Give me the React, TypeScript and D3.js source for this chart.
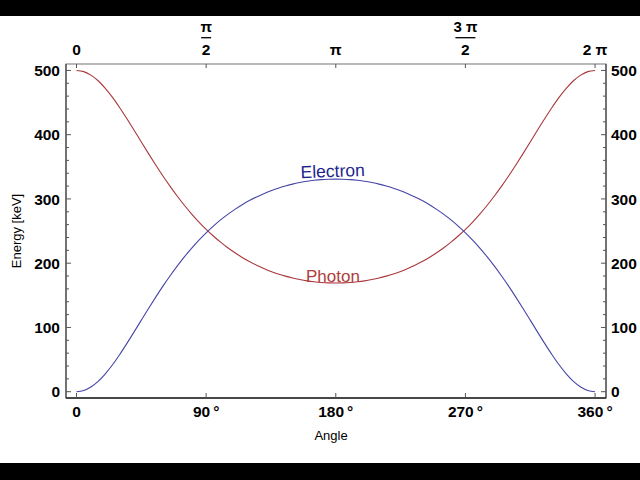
import * as d3 from 'd3'

// angle in degrees, 5° steps
const angles = d3.range(0, 361, 5)
const photonHalf = [
  500, 498.1, 492.7, 483.9, 472.1, 458.0, 442.0, 424.8, 406.9, 388.6,
  370.5, 352.8, 335.7, 319.5, 304.2, 289.8, 276.5, 264.1, 252.7, 242.3,
  232.7, 224.0, 216.2, 209.0, 202.6, 196.9, 191.8, 187.2, 183.3, 179.9,
  176.9, 174.5, 172.5, 171.0, 169.9, 169.3, 169.1,
]
const electronHalf = [
  0, 1.9, 7.3, 16.1, 27.9, 42.0, 58.0, 75.2, 93.1, 111.4,
  129.5, 147.2, 164.3, 180.5, 195.8, 210.2, 223.5, 235.9, 247.3, 257.7,
  267.3, 276.0, 283.8, 291.0, 297.4, 303.1, 308.2, 312.8, 316.7, 320.1,
  323.1, 325.5, 327.5, 329.0, 330.1, 330.7, 330.9,
]
// 180°..360° mirrors 0°..180°
const photon = [...photonHalf, ...photonHalf.slice(0, -1).reverse()]
const electron = [...electronHalf, ...electronHalf.slice(0, -1).reverse()]

const xTicks = [0, 90, 180, 270, 360]
const bottomLabels = ['0', '90', '180', '270', '360']
const topLabels = ['0', 'π/2', 'π', '3π/2', '2π']
const yTicks = [0, 100, 200, 300, 400, 500]
const yMinorTicks = d3.range(0, 501, 20).filter(v => v % 100 !== 0)

const W = 640
const H = 480
const FRAME = { left: 66, right: 606, top: 64, bottom: 398 }
const FONT = '"Liberation Sans", Arial, sans-serif'
const PHOTON_COLOR = '#a8383c'
const ELECTRON_COLOR = '#4545a8'

export default function App() {
  const x = d3.scaleLinear().domain([-7.3, 367.6]).range([FRAME.left, FRAME.right])
  const y = d3.scaleLinear().domain([-9.8, 510]).range([FRAME.bottom, FRAME.top])

  const line = d3.line<number>()
    .x((_, i) => x(angles[i]))
    .y(d => y(d))
    .curve(d3.curveCatmullRom)

  const tickColor = '#555'
  const frameColor = '#8a8a8a'

  return (
    <svg width={W} height={H} style={{ position: 'absolute', left: 0, top: 0, background: '#fff' }}
      fontFamily={FONT}>
      {/* letterbox bars */}
      <rect x={0} y={0} width={W} height={16} fill="#000" />
      <rect x={0} y={463} width={W} height={17} fill="#000" />

      {/* frame */}
      <rect x={FRAME.left} y={FRAME.top} width={FRAME.right - FRAME.left} height={FRAME.bottom - FRAME.top}
        fill="none" stroke={frameColor} strokeWidth={1.2} />
      <line x1={FRAME.left} x2={FRAME.right} y1={FRAME.bottom} y2={FRAME.bottom} stroke="#222" strokeWidth={1.4} />
      <line x1={FRAME.left} x2={FRAME.left} y1={FRAME.top} y2={FRAME.bottom} stroke="#444" strokeWidth={1.2} />
      <line x1={FRAME.right} x2={FRAME.right} y1={FRAME.top} y2={FRAME.bottom} stroke="#444" strokeWidth={1.2} />

      {/* y ticks, both sides */}
      {yTicks.map(v => (
        <g key={'y' + v}>
          <line x1={FRAME.left} x2={FRAME.left + 5} y1={y(v)} y2={y(v)} stroke={tickColor} />
          <line x1={FRAME.right - 5} x2={FRAME.right} y1={y(v)} y2={y(v)} stroke={tickColor} />
          <text x={60} y={y(v)} dy="0.36em" textAnchor="end" fontSize={15.5} fontWeight="bold">{v}</text>
          <text x={611} y={y(v)} dy="0.36em" textAnchor="start" fontSize={15.5} fontWeight="bold">{v}</text>
        </g>
      ))}
      {yMinorTicks.map(v => (
        <g key={'ym' + v}>
          <line x1={FRAME.left} x2={FRAME.left + 3} y1={y(v)} y2={y(v)} stroke={tickColor} />
          <line x1={FRAME.right - 3} x2={FRAME.right} y1={y(v)} y2={y(v)} stroke={tickColor} />
        </g>
      ))}

      {/* x ticks, bottom and top */}
      {xTicks.map((v, i) => (
        <g key={'x' + v}>
          <line x1={x(v)} x2={x(v)} y1={FRAME.bottom} y2={FRAME.bottom - 5} stroke={tickColor} />
          <line x1={x(v)} x2={x(v)} y1={FRAME.top} y2={FRAME.top + 4} stroke={tickColor} />
          <text x={x(v)} y={417} textAnchor="middle" fontSize={15.5} fontWeight="bold">
            {bottomLabels[i]}
            {i > 0 && <tspan dx={3}>°</tspan>}
          </text>
          {topLabels[i].includes('/') ? (
            <g>
              <text x={x(v)} y={32} textAnchor="middle" fontSize={15} fontWeight="bold">
                {topLabels[i].split('/')[0].replace('π', ' π')}
              </text>
              <line x1={x(v) - (i === 3 ? 10 : 5)} x2={x(v) + (i === 3 ? 10 : 5)} y1={37.7} y2={37.7}
                stroke="#000" strokeWidth={1.3} />
              <text x={x(v)} y={55} textAnchor="middle" fontSize={15.5} fontWeight="bold">
                {topLabels[i].split('/')[1]}
              </text>
            </g>
          ) : (
            <text x={x(v)} y={55} textAnchor="middle" fontSize={15.5} fontWeight="bold">
              {topLabels[i].replace(/(\d)π/, '$1 π')}
            </text>
          )}
        </g>
      ))}

      {/* curves */}
      <path d={line(photon) ?? ''} fill="none" stroke={PHOTON_COLOR} strokeWidth={1.1} />
      <path d={line(electron) ?? ''} fill="none" stroke={ELECTRON_COLOR} strokeWidth={1.1} />

      {/* curve labels */}
      <text x={x(178)} y={y(331) - 2} textAnchor="middle" fontSize={17.5} fill="#1f1f8f"
        transform={`rotate(-2, ${x(178)}, ${y(331) - 2})`}>Electron</text>
      <text x={x(178)} y={y(169) - 1} textAnchor="middle" fontSize={17} fill="#b03c3c">Photon</text>

      {/* axis titles */}
      <text x={331} y={440} textAnchor="middle" fontSize={13}>Angle</text>
      <text transform={`translate(21, ${(FRAME.top + FRAME.bottom) / 2}) rotate(-90)`} textAnchor="middle"
        fontSize={13}>Energy [keV]</text>
    </svg>
  )
}
